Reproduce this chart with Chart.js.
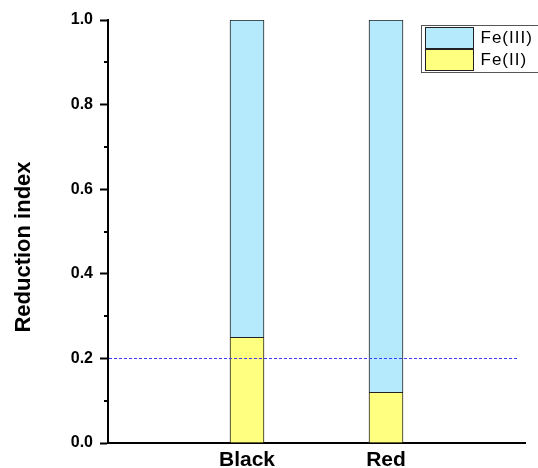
<!DOCTYPE html>
<html>
<head>
<meta charset="utf-8">
<script src="https://cdn.jsdelivr.net/npm/chart.js@4.4.1/dist/chart.umd.min.js"></script>
<style>
  html, body { margin: 0; padding: 0; background: #fff; }
  #wrap { width: 538px; height: 468px; }
</style>
</head>
<body>
<div id="wrap"><canvas id="chart" width="538" height="468"></canvas></div>
<script>
// Data
const categories = ['', 'Black', 'Red', ''];
const feII = [null, 0.25, 0.12, null];
const feIII = [null, 0.75, 0.88, null];
const refLevel = 0.2;
const yTitle = 'Reduction index';

// Colors
const blueFill = '#b5eafc';
const yellowFill = '#ffff80';
const barEdge = '#222222';

// Axis title, minor ticks, reference line and legend box
const decorPlugin = {
    id: 'decor',
    afterDraw(chart) {
        const ctx = chart.ctx;
        const area = chart.chartArea;
        const y = chart.scales.y;

        // minor ticks at odd tenths
        ctx.save();
        ctx.strokeStyle = '#000';
        ctx.lineWidth = 2;
        for (let v = 0.1; v < 1; v += 0.2) {
            const py = Math.round(y.getPixelForValue(v));
            ctx.beginPath();
            ctx.moveTo(area.left - 4, py);
            ctx.lineTo(area.left, py);
            ctx.stroke();
        }
        ctx.restore();

        // dashed reference line
        ctx.save();
        const ry = Math.round(y.getPixelForValue(refLevel)) + 0.5;
        ctx.strokeStyle = '#3c3cff';
        ctx.lineWidth = 1;
        ctx.setLineDash([3, 2]);
        ctx.beginPath();
        ctx.moveTo(area.left + 1, ry);
        ctx.lineTo(area.right - 7, ry);
        ctx.stroke();
        ctx.restore();

        // y axis title
        ctx.save();
        ctx.translate(24, 247);
        ctx.rotate(-Math.PI / 2);
        ctx.font = "bold 22px 'Liberation Sans Narrow', 'Liberation Sans', Arial, sans-serif";
        ctx.fillStyle = '#000';
        ctx.textAlign = 'center';
        ctx.textBaseline = 'middle';
        ctx.fillText(yTitle, 0, 0);
        ctx.restore();

        // legend box (top right, runs off the canvas edge)
        ctx.save();
        const lx = 421.5, ly = 25.5;
        ctx.fillStyle = '#fff';
        ctx.fillRect(lx, ly, 130, 47);
        ctx.strokeStyle = '#555';
        ctx.lineWidth = 1;
        ctx.strokeRect(lx, ly, 130, 47);
        const items = chart.data.datasets.slice().reverse();
        ctx.font = "17px 'Liberation Sans', Arial, sans-serif";
        ctx.letterSpacing = '1px';
        ctx.textBaseline = 'middle';
        items.forEach((ds, i) => {
            const sy = ly + 2 + i * 22;
            ctx.fillStyle = ds.backgroundColor;
            ctx.fillRect(lx + 4, sy, 48, 21);
            ctx.strokeStyle = barEdge;
            ctx.strokeRect(lx + 4, sy, 48, 21);
            ctx.fillStyle = '#000';
            ctx.fillText(ds.label, lx + 59, sy + 11);
        });
        ctx.restore();
    }
};

const ctx = document.getElementById('chart').getContext('2d');
const chart = new Chart(ctx, {
    type: 'bar',
    data: {
        labels: categories,
        datasets: [
            {
                label: 'Fe(II)',
                data: feII,
                backgroundColor: yellowFill,
                borderColor: barEdge,
                borderWidth: 1,
                barThickness: 34
            },
            {
                label: 'Fe(III)',
                data: feIII,
                backgroundColor: blueFill,
                borderColor: barEdge,
                borderWidth: 1,
                barThickness: 34
            }
        ]
    },
    options: {
        responsive: false,
        animation: false,
        layout: {
            padding: { top: 20, right: 13, left: 0, bottom: 0 }
        },
        plugins: {
            legend: { display: false },
            tooltip: { enabled: false }
        },
        scales: {
            x: {
                stacked: true,
                offset: false,
                grid: { display: false, drawTicks: false },
                border: { display: true, color: '#000', width: 2 },
                ticks: {
                    color: '#000',
                    padding: 5,
                    maxRotation: 0,
                    autoSkip: false,
                    font: { family: "'Liberation Sans', Arial, sans-serif", size: 21, weight: 'bold' }
                },
                afterFit(scale) { scale.height = 25; }
            },
            y: {
                stacked: true,
                min: 0,
                max: 1,
                grid: {
                    drawOnChartArea: false,
                    tickLength: 8,
                    tickWidth: 2,
                    tickColor: (c) => (Math.round(c.tick.value * 10) % 2 === 0 ? '#000' : 'rgba(0,0,0,0)')
                },
                border: { display: true, color: '#000', width: 2 },
                ticks: {
                    stepSize: 0.1,
                    color: '#000',
                    padding: 7,
                    font: { family: "'Liberation Sans', Arial, sans-serif", size: 16, weight: 'bold' },
                    callback: function(value) {
                        const t = Math.round(value * 10);
                        return t % 2 === 0 ? (t / 10).toFixed(1) : '';
                    }
                },
                afterFit(scale) { scale.width = 108; }
            }
        }
    },
    plugins: [decorPlugin]
});
</script>
</body>
</html>
